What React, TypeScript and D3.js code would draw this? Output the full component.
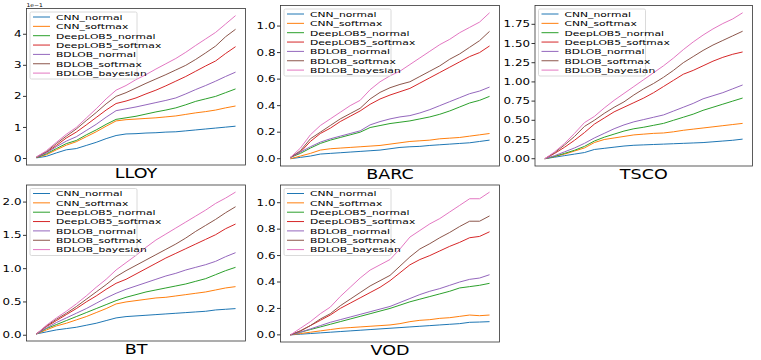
import React from "react";
import * as d3 from "d3";

const seriesNames = [
  "CNN_normal",
  "CNN_softmax",
  "DeepLOB5_normal",
  "DeepLOB5_softmax",
  "BDLOB_normal",
  "BDLOB_softmax",
  "BDLOB_bayesian",
];
const seriesColors = ["#1f77b4", "#ff7f0e", "#2ca02c", "#d62728", "#9467bd", "#8c564b", "#e377c2"];

// LLOY (values in units of 1e-1)
const LLOY: number[][] = [
  [0.02, 0.07, 0.18, 0.28, 0.32, 0.42, 0.52, 0.64, 0.74, 0.79, 0.8, 0.82, 0.83, 0.85, 0.86, 0.89, 0.92, 0.95, 0.98, 1.01, 1.04],
  [0.03, 0.12, 0.28, 0.43, 0.54, 0.7, 0.86, 1.04, 1.21, 1.25, 1.27, 1.29, 1.31, 1.34, 1.37, 1.42, 1.47, 1.51, 1.56, 1.63, 1.69],
  [0.03, 0.15, 0.32, 0.48, 0.58, 0.76, 0.92, 1.1, 1.26, 1.31, 1.36, 1.43, 1.5, 1.56, 1.63, 1.73, 1.84, 1.92, 2.0, 2.12, 2.24],
  [0.04, 0.2, 0.42, 0.66, 0.85, 1.08, 1.32, 1.56, 1.77, 1.85, 1.95, 2.08, 2.2, 2.34, 2.49, 2.64, 2.81, 2.98, 3.14, 3.38, 3.6],
  [0.04, 0.18, 0.38, 0.56, 0.7, 0.9, 1.1, 1.33, 1.54, 1.6, 1.66, 1.73, 1.8, 1.87, 1.95, 2.08, 2.22, 2.35, 2.49, 2.64, 2.78],
  [0.05, 0.22, 0.48, 0.72, 0.95, 1.22, 1.48, 1.76, 2.0, 2.12, 2.27, 2.42, 2.56, 2.7, 2.85, 3.0, 3.19, 3.4, 3.62, 3.92, 4.16],
  [0.05, 0.25, 0.52, 0.78, 1.0, 1.3, 1.6, 1.92, 2.2, 2.35, 2.54, 2.7, 2.88, 3.05, 3.22, 3.42, 3.64, 3.85, 4.06, 4.33, 4.6],
];

const BARC: number[][] = [
  [0, 0.01, 0.02, 0.035, 0.04, 0.045, 0.05, 0.055, 0.06, 0.065, 0.075, 0.085, 0.09, 0.093, 0.1, 0.105, 0.11, 0.115, 0.12, 0.13, 0.14],
  [0, 0.02, 0.04, 0.065, 0.075, 0.08, 0.085, 0.09, 0.095, 0.1, 0.11, 0.12, 0.13, 0.135, 0.14, 0.15, 0.155, 0.16, 0.17, 0.18, 0.19],
  [0.01, 0.04, 0.08, 0.115, 0.14, 0.16, 0.18, 0.2, 0.235, 0.25, 0.265, 0.275, 0.285, 0.3, 0.315, 0.335, 0.36, 0.39, 0.42, 0.44, 0.47],
  [0.01, 0.05, 0.13, 0.19, 0.23, 0.28, 0.32, 0.36, 0.41, 0.45, 0.48, 0.505, 0.53, 0.57, 0.61, 0.65, 0.69, 0.73, 0.77, 0.8, 0.85],
  [0.01, 0.05, 0.09, 0.125, 0.15, 0.17, 0.19, 0.21, 0.255, 0.28, 0.3, 0.315, 0.325, 0.345, 0.37, 0.4, 0.43, 0.46, 0.49, 0.51, 0.54],
  [0.01, 0.06, 0.15, 0.2, 0.25, 0.3, 0.34, 0.38, 0.45, 0.5, 0.535, 0.56, 0.58, 0.62, 0.66, 0.7, 0.75, 0.79, 0.84, 0.89, 0.96],
  [0.01, 0.08, 0.18, 0.25, 0.3, 0.35, 0.4, 0.44, 0.52, 0.58, 0.625, 0.66, 0.71, 0.76, 0.81, 0.86, 0.9, 0.95, 0.99, 1.03, 1.1],
];

const TSCO: number[][] = [
  [0, 0.02, 0.04, 0.06, 0.08, 0.12, 0.135, 0.15, 0.165, 0.175, 0.18, 0.185, 0.19, 0.195, 0.2, 0.205, 0.21, 0.22, 0.23, 0.24, 0.255],
  [0, 0.03, 0.06, 0.1, 0.14, 0.21, 0.25, 0.27, 0.29, 0.31, 0.32, 0.33, 0.335, 0.35, 0.37, 0.385, 0.4, 0.415, 0.43, 0.445, 0.46],
  [0, 0.03, 0.07, 0.11, 0.16, 0.23, 0.28, 0.32, 0.36, 0.39, 0.41, 0.435, 0.46, 0.5, 0.54, 0.58, 0.63, 0.67, 0.71, 0.75, 0.79],
  [0, 0.07, 0.15, 0.24, 0.34, 0.45, 0.53, 0.61, 0.67, 0.73, 0.79, 0.86, 0.94, 1.02, 1.1, 1.15, 1.21, 1.27, 1.32, 1.36, 1.39],
  [0, 0.04, 0.09, 0.14, 0.2, 0.27, 0.33, 0.39, 0.44, 0.48, 0.51, 0.54, 0.57, 0.62, 0.67, 0.72, 0.78, 0.82, 0.86, 0.91, 0.96],
  [0, 0.08, 0.18, 0.29, 0.42, 0.5, 0.59, 0.67, 0.74, 0.83, 0.91, 0.98, 1.06, 1.15, 1.25, 1.33, 1.41, 1.48, 1.54, 1.6, 1.66],
  [0, 0.09, 0.2, 0.33, 0.47, 0.55, 0.66, 0.76, 0.85, 0.94, 1.03, 1.12, 1.21, 1.31, 1.42, 1.52, 1.61, 1.69, 1.76, 1.82, 1.9],
];

const BT: number[][] = [
  [0.02, 0.05, 0.08, 0.1, 0.12, 0.15, 0.18, 0.22, 0.26, 0.28, 0.29, 0.3, 0.31, 0.32, 0.33, 0.34, 0.35, 0.36, 0.38, 0.39, 0.4],
  [0.02, 0.08, 0.14, 0.18, 0.23, 0.28, 0.34, 0.4, 0.47, 0.5, 0.52, 0.54, 0.56, 0.57, 0.59, 0.61, 0.63, 0.65, 0.68, 0.71, 0.73],
  [0.02, 0.1, 0.16, 0.22, 0.28, 0.34, 0.4, 0.46, 0.52, 0.57, 0.61, 0.65, 0.68, 0.71, 0.74, 0.77, 0.81, 0.85, 0.91, 0.97, 1.02],
  [0.02, 0.13, 0.22, 0.31, 0.4, 0.5, 0.59, 0.69, 0.78, 0.84, 0.92, 1.0, 1.08, 1.16, 1.23, 1.3, 1.37, 1.44, 1.51, 1.6, 1.67],
  [0.02, 0.11, 0.19, 0.26, 0.33, 0.4, 0.48, 0.56, 0.63, 0.69, 0.74, 0.79, 0.84, 0.89, 0.93, 0.98, 1.02, 1.06, 1.11, 1.18, 1.24],
  [0.02, 0.14, 0.24, 0.33, 0.43, 0.54, 0.65, 0.76, 0.88, 0.97, 1.05, 1.13, 1.21, 1.29, 1.37, 1.46, 1.56, 1.65, 1.74, 1.84, 1.93],
  [0.02, 0.15, 0.26, 0.36, 0.47, 0.59, 0.72, 0.84, 0.98, 1.09, 1.2, 1.32, 1.43, 1.52, 1.61, 1.7, 1.79, 1.88, 1.98, 2.06, 2.15],
];

const VOD: number[][] = [
  [0, 0.005, 0.01, 0.015, 0.02, 0.025, 0.03, 0.035, 0.04, 0.045, 0.05, 0.055, 0.06, 0.065, 0.07, 0.075, 0.08, 0.085, 0.095, 0.097, 0.1],
  [0, 0.01, 0.02, 0.03, 0.04, 0.05, 0.055, 0.06, 0.065, 0.07, 0.075, 0.085, 0.1, 0.11, 0.115, 0.125, 0.13, 0.14, 0.15, 0.145, 0.15],
  [0, 0.02, 0.04, 0.06, 0.08, 0.1, 0.12, 0.14, 0.16, 0.18, 0.2, 0.225, 0.25, 0.27, 0.29, 0.31, 0.33, 0.355, 0.365, 0.375, 0.39],
  [0, 0.03, 0.07, 0.11, 0.15, 0.2, 0.24, 0.28, 0.32, 0.36, 0.41, 0.47, 0.53, 0.57, 0.6, 0.635, 0.67, 0.7, 0.735, 0.745, 0.78],
  [0, 0.02, 0.045, 0.07, 0.095, 0.115, 0.135, 0.155, 0.175, 0.195, 0.215, 0.245, 0.275, 0.305, 0.33, 0.35, 0.375, 0.4, 0.42, 0.43, 0.455],
  [0, 0.03, 0.07, 0.12, 0.16, 0.22, 0.27, 0.32, 0.37, 0.41, 0.45, 0.52, 0.59, 0.65, 0.69, 0.735, 0.775, 0.82, 0.86, 0.86, 0.9],
  [0, 0.05, 0.1, 0.16, 0.21, 0.29, 0.36, 0.43, 0.49, 0.53, 0.57, 0.65, 0.74, 0.79, 0.84, 0.88, 0.93, 0.98, 1.03, 1.03, 1.08],
];

const lloyTicks = [0, 1, 2, 3, 4];
const barcTicks = [0, 0.2, 0.4, 0.6, 0.8, 1.0];
const tscoTicks = [0, 0.25, 0.5, 0.75, 1.0, 1.25, 1.5, 1.75];
const btTicks = [0, 0.5, 1.0, 1.5, 2.0];
const vodTicks = [0, 0.2, 0.4, 0.6, 0.8, 1.0];

type Box = { l: number; r: number; t: number; b: number };
type PanelSpec = {
  name: string;
  data: number[][];
  box: Box;
  ticks: number[];
  fmt: (v: number) => string;
  offset?: string;
};

const panels: PanelSpec[] = [
  { name: "LLOY", data: LLOY, box: { l: 26.5, r: 245.5, t: 8.5, b: 165 }, ticks: lloyTicks, fmt: d3.format(".0f"), offset: "1e\u22121" },
  { name: "BARC", data: BARC, box: { l: 280.5, r: 499.5, t: 5.5, b: 166 }, ticks: barcTicks, fmt: d3.format(".1f") },
  { name: "TSCO", data: TSCO, box: { l: 535, r: 752.5, t: 5.5, b: 166 }, ticks: tscoTicks, fmt: d3.format(".2f") },
  { name: "BT", data: BT, box: { l: 26.5, r: 245.5, t: 185, b: 341 }, ticks: btTicks, fmt: d3.format(".1f") },
  { name: "VOD", data: VOD, box: { l: 280.5, r: 499.5, t: 185, b: 342 }, ticks: vodTicks, fmt: d3.format(".1f") },
];

const FONT = "'DejaVu Sans', sans-serif";

function STxt(props: {
  x: number;
  y: number;
  size: number;
  anchor?: string;
  sx?: number;
  children: React.ReactNode;
  fill?: string;
}) {
  const { x, y, size, anchor = "start", sx = 1.2, children, fill = "#000" } = props;
  return (
    <text
      transform={`translate(${x},${y}) scale(${sx},1)`}
      fontSize={size}
      fontFamily={FONT}
      textAnchor={anchor}
      fill={fill}
    >
      {children}
    </text>
  );
}

function Panel({ p }: { p: PanelSpec }) {
  const { box } = p;
  const n = p.data[0].length;
  const allVals = p.data.flat();
  const ymin = d3.min(allVals) as number;
  const ymax = d3.max(allVals) as number;
  const ypad = (ymax - ymin) * 0.05;
  const xpad = (n - 1) * 0.05;
  const x = d3.scaleLinear().domain([-xpad, n - 1 + xpad]).range([box.l, box.r]);
  const y = d3.scaleLinear().domain([ymin - ypad, ymax + ypad]).range([box.b, box.t]);
  const line = d3
    .line<number>()
    .x((_, i) => x(i))
    .y((d) => y(d));

  const legX = box.l + 3.5;
  const legY = box.t + 3.5;
  const rowH = 9.35;
  const legW = 107;
  const legH = 67;

  return (
    <g>
      <defs>
        <clipPath id={`clip-${p.name}`}>
          <rect x={box.l} y={box.t} width={box.r - box.l} height={box.b - box.t} />
        </clipPath>
      </defs>
      <g clipPath={`url(#clip-${p.name})`}>
        {p.data.map((s, i) => (
          <path key={i} d={line(s) || ""} fill="none" stroke={seriesColors[i]} strokeWidth={1} strokeLinejoin="round" />
        ))}
      </g>
      {p.ticks.map((t) => (
        <g key={t}>
          <line x1={box.l - 3.5} x2={box.l} y1={y(t)} y2={y(t)} stroke="#000" strokeWidth={0.8} />
          <STxt x={box.l - 5} y={y(t) + 3.1} size={8.6} sx={1.38} anchor="end">
            {p.fmt(t)}
          </STxt>
        </g>
      ))}
      <rect x={box.l} y={box.t} width={box.r - box.l} height={box.b - box.t} fill="none" stroke="#333" strokeWidth={0.8} />
      <rect x={legX} y={legY} width={legW} height={legH} rx={1.5} fill="#fff" fillOpacity={0.8} stroke="#d0d0d0" strokeWidth={0.8} />
      {seriesNames.map((nm, i) => {
        const cy = legY + 5 + i * rowH;
        return (
          <g key={nm}>
            <line x1={legX + 3} x2={legX + 20} y1={cy} y2={cy} stroke={seriesColors[i]} strokeWidth={1} />
            <STxt x={legX + 26} y={cy + 2.8} size={7.8} sx={1.38}>
              {nm}
            </STxt>
          </g>
        );
      })}
      <STxt x={(box.l + box.r) / 2} y={box.b + 12.5} size={13.5} anchor="middle" sx={1.3}>
        {p.name}
      </STxt>
      {p.offset ? (
        <STxt x={box.l} y={box.t - 2} size={5} sx={1.2}>
          {p.offset}
        </STxt>
      ) : null}
    </g>
  );
}

export default function App() {
  return (
    <svg
      width={761}
      height={360}
      viewBox="0 0 761 360"
      style={{ position: "fixed", left: 0, top: 0, display: "block", background: "#fff" }}
    >
      <rect x={0} y={0} width={761} height={360} fill="#fff" />
      {panels.map((p) => (
        <Panel key={p.name} p={p} />
      ))}
    </svg>
  );
}
